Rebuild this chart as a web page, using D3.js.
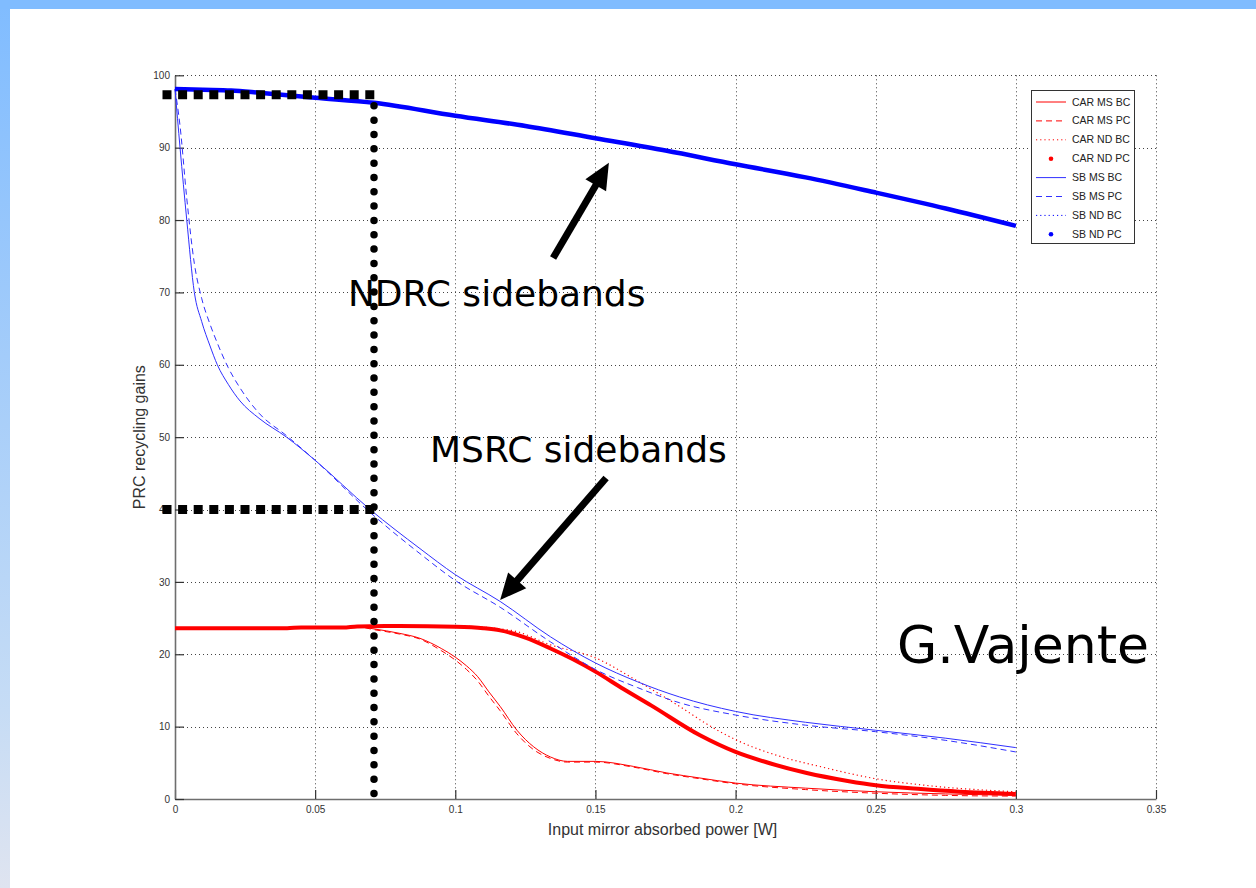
<!DOCTYPE html>
<html>
<head>
<meta charset="utf-8">
<script src="https://cdn.jsdelivr.net/npm/d3@7"></script>
<style>
  html, body { margin: 0; padding: 0; background: #fff; }
  svg { display: block; }
</style>
</head>
<body>
<svg id="chart" width="1256" height="888"></svg>
<script>
// ---- Data: PRC recycling gains vs input mirror absorbed power ----
const xTicks = [0, 0.05, 0.1, 0.15, 0.2, 0.25, 0.3, 0.35];
const xTickLabels = ["0", "0.05", "0.1", "0.15", "0.2", "0.25", "0.3", "0.35"];
const yTicks = [0, 10, 20, 30, 40, 50, 60, 70, 80, 90, 100];
const yTickLabels = ["0", "10", "20", "30", "40", "50", "60", "70", "80", "90", "100"];

// Sideband, non-degenerate recycling cavity
const sbNdX = [0, 0.01, 0.02, 0.03, 0.05, 0.071, 0.1, 0.125, 0.15, 0.175, 0.2, 0.225, 0.25, 0.275, 0.3];
const sbNdBC = [98.1, 98.0, 97.9, 97.6, 96.9, 96.2, 94.4, 93.0, 91.3, 89.6, 87.7, 85.9, 83.8, 81.6, 79.2];
const sbNdPC = [98.1, 98.0, 97.9, 97.6, 96.9, 96.2, 94.4, 93.0, 91.3, 89.6, 87.7, 85.9, 83.8, 81.6, 79.2];

// Sideband, marginally stable recycling cavity
const sbMsX = [0, 0.0018, 0.0042, 0.0069, 0.0095, 0.0125, 0.0151, 0.019, 0.0232, 0.03, 0.0398, 0.05, 0.0696, 0.0874, 0.1, 0.116, 0.134, 0.15, 0.165, 0.18, 0.2, 0.225, 0.25, 0.275, 0.3];
const sbMsBC = [98.1, 90, 80, 70, 66.0, 62.6, 60, 57.3, 55, 52.6, 50, 46.8, 40, 34.6, 31.0, 27.3, 22.4, 18.8, 16.2, 14.1, 12.1, 10.6, 9.5, 8.4, 7.1];
const sbMsPC = [98.1, 93, 83, 74, 69.2, 65.6, 63, 59.6, 56.8, 53.3, 50.2, 46.8, 39.6, 33.9, 30.2, 26.5, 21.7, 17.9, 15.4, 13.3, 11.6, 10.2, 9.3, 8.1, 6.5];

// Carrier, non-degenerate recycling cavity
const carNdPcX = [0, 0.02, 0.04, 0.045, 0.06, 0.065, 0.08, 0.1, 0.11, 0.116, 0.125, 0.134, 0.142, 0.15, 0.16, 0.17, 0.1873, 0.2, 0.2125, 0.2254, 0.24, 0.25, 0.265, 0.28, 0.3];
const carNdPC = [23.6, 23.6, 23.6, 23.7, 23.7, 23.85, 23.9, 23.8, 23.6, 23.3, 22.3, 20.8, 19.3, 17.6, 15.2, 12.9, 8.8, 6.5, 4.9, 3.6, 2.5, 1.9, 1.4, 1.0, 0.7];
const carNdBcX = [0, 0.05, 0.07, 0.1, 0.12, 0.134, 0.15, 0.165, 0.18, 0.19, 0.2, 0.215, 0.23, 0.25, 0.27, 0.3];
const carNdBC = [23.6, 23.7, 23.85, 23.9, 23.3, 21.3, 19.5, 16.3, 12.8, 10.3, 8.2, 6.0, 4.5, 2.8, 1.8, 1.0];

// Carrier, marginally stable recycling cavity
const carMsX = [0, 0.05, 0.065, 0.071, 0.08, 0.0874, 0.095, 0.1, 0.104, 0.108, 0.112, 0.116, 0.122, 0.128, 0.134, 0.14, 0.15, 0.1636, 0.1755, 0.1873, 0.2, 0.225, 0.25, 0.275, 0.3];
const carMsBC = [23.6, 23.7, 23.8, 23.5, 22.9, 22.2, 20.8, 19.6, 18.4, 16.9, 14.8, 12.8, 9.5, 7.2, 5.8, 5.2, 5.2, 4.5, 3.6, 2.9, 2.2, 1.5, 1.0, 0.7, 0.5];
const carMsPC = [23.6, 23.7, 23.8, 23.4, 22.8, 22.1, 20.5, 19.2, 17.9, 16.3, 14.2, 12.2, 9.0, 6.8, 5.6, 5.1, 5.1, 4.4, 3.5, 2.8, 2.1, 1.3, 0.8, 0.5, 0.4];

// Working point read-off guides (absorbed power, gains)
const workPower = 0.071;
const guideGainNd = 97.3;
const guideGainMs = 40;

const legendLabels = ["CAR MS BC", "CAR MS PC", "CAR ND BC", "CAR ND PC", "SB MS BC", "SB MS PC", "SB ND BC", "SB ND PC"];

// ---- Layout ----
const svg = d3.select("#chart");
const W = 1256, H = 888;
const plot = { left: 175, right: 1156, top: 75.3, bottom: 799 };

const x = d3.scaleLinear().domain([0, 0.35]).range([plot.left, plot.right]);
const y = d3.scaleLinear().domain([0, 100]).range([plot.bottom, plot.top]);

// Slide background: blue top band and fading left strip
const defs = svg.append("defs");
const grad = defs.append("linearGradient").attr("id", "leftFade")
  .attr("x1", 0).attr("y1", 0).attr("x2", 0).attr("y2", 1);
grad.append("stop").attr("offset", "0%").attr("stop-color", "#80bcff");
grad.append("stop").attr("offset", "80%").attr("stop-color", "#c6dcf5");
grad.append("stop").attr("offset", "100%").attr("stop-color", "#dfe4f0");

svg.append("rect").attr("width", W).attr("height", H).attr("fill", "#fff");
svg.append("rect").attr("x", 0).attr("y", 0).attr("width", 10).attr("height", H).attr("fill", "url(#leftFade)");
svg.append("rect").attr("x", 0).attr("y", 0).attr("width", W).attr("height", 9).attr("fill", "#80bcff");

// Grid
const grid = svg.append("g").attr("stroke", "#444").attr("stroke-width", 1).attr("stroke-dasharray", "1,3");
grid.selectAll(".gx").data(xTicks.filter(d => d > 0)).join("line")
  .attr("x1", d => Math.round(x(d)) + 0.5).attr("x2", d => Math.round(x(d)) + 0.5)
  .attr("y1", plot.top).attr("y2", plot.bottom);
grid.selectAll(".gy").data(yTicks.filter(d => d > 0)).join("line")
  .attr("y1", d => Math.round(y(d)) + 0.5).attr("y2", d => Math.round(y(d)) + 0.5)
  .attr("x1", plot.left).attr("x2", plot.right);

// Axes (ticks pointing inward)
const xAxis = d3.axisBottom(x).tickValues(xTicks)
  .tickFormat((d, i) => xTickLabels[i]).tickSizeInner(-9).tickSizeOuter(0).tickPadding(7);
const yAxis = d3.axisLeft(y).tickValues(yTicks)
  .tickFormat((d, i) => yTickLabels[i]).tickSizeInner(-9).tickSizeOuter(0).tickPadding(5);

const gx = svg.append("g").attr("transform", `translate(0,${plot.bottom})`).call(xAxis);
const gy = svg.append("g").attr("transform", `translate(${plot.left},0)`).call(yAxis);
[gx, gy].forEach(g => {
  g.select(".domain").attr("stroke", "#6e6e6e").attr("stroke-width", 1.6);
  g.selectAll(".tick line").attr("stroke", "#333").attr("stroke-width", 1.2);
  g.selectAll(".tick text").attr("fill", "#333")
    .style("font-family", "'Liberation Sans', Arial, sans-serif").style("font-size", "10px");
});

// Axis titles
svg.append("text").attr("x", (plot.left + plot.right) / 2 - 3).attr("y", 835)
  .attr("text-anchor", "middle").attr("fill", "#333")
  .style("font-family", "'Liberation Sans', Arial, sans-serif").style("font-size", "16px")
  .text("Input mirror absorbed power [W]");
svg.append("text").attr("transform", `translate(145,${(plot.top + plot.bottom) / 2}) rotate(-90)`)
  .attr("text-anchor", "middle").attr("fill", "#333")
  .style("font-family", "'Liberation Sans', Arial, sans-serif").style("font-size", "16px")
  .text("PRC recycling gains");

// ---- Series ----
const lineGen = d3.line().x(d => x(d[0])).y(d => y(d[1])).curve(d3.curveMonotoneX);
const zip = (xs, ys) => xs.map((v, i) => [v, ys[i]]);

const series = [
  { xs: carMsX, ys: carMsBC, color: "#ff0000", width: 1, dash: null },
  { xs: carMsX, ys: carMsPC, color: "#ff0000", width: 1, dash: "6,4" },
  { xs: carNdBcX, ys: carNdBC, color: "#ff0000", width: 1.2, dash: "1.2,3" },
  { xs: carNdPcX, ys: carNdPC, color: "#ff0000", width: 4, dash: null },
  { xs: sbMsX, ys: sbMsBC, color: "#3030ff", width: 1, dash: null },
  { xs: sbMsX, ys: sbMsPC, color: "#3030ff", width: 1, dash: "6,4" },
  { xs: sbNdX, ys: sbNdBC, color: "#0000ff", width: 1.2, dash: "1.2,3" },
  { xs: sbNdX, ys: sbNdPC, color: "#0000ff", width: 4.5, dash: null }
];

const gSeries = svg.append("g").attr("fill", "none");
series.forEach(s => {
  gSeries.append("path")
    .attr("d", lineGen(zip(s.xs, s.ys)))
    .attr("stroke", s.color).attr("stroke-width", s.width)
    .attr("stroke-dasharray", s.dash).attr("stroke-linejoin", "round");
});

// ---- Working-point guides ----
const guides = svg.append("g").attr("fill", "none").attr("stroke", "#000");
const sqStart = x.invert(plot.left - 12.5);
[guideGainNd, guideGainMs].forEach(g => {
  guides.append("line")
    .attr("x1", x(sqStart)).attr("x2", x(workPower) + 0.5)
    .attr("y1", y(g)).attr("y2", y(g))
    .attr("stroke-width", 9).attr("stroke-dasharray", "9,6.6");
});
const dotTop = y(guideGainNd) + 11, dotBottom = y(0) - 5.5;
const dotGap = (dotBottom - dotTop) / 48;
guides.append("line")
  .attr("x1", x(workPower)).attr("x2", x(workPower))
  .attr("y1", dotTop).attr("y2", dotBottom + 0.5)
  .attr("stroke-width", 7.5).attr("stroke-linecap", "round").attr("stroke-dasharray", `0,${dotGap}`);

// ---- Annotations ----
const arrows = [
  { from: [0.1349, 74.75], to: [0.1548, 87.9] },
  { from: [0.1538, 44.35], to: [0.116, 27.5] }
];
arrows.forEach(a => {
  const x1 = x(a.from[0]), y1 = y(a.from[1]), x2 = x(a.to[0]), y2 = y(a.to[1]);
  const len = Math.hypot(x2 - x1, y2 - y1);
  const ux = (x2 - x1) / len, uy = (y2 - y1) / len;
  svg.append("line")
    .attr("x1", x1).attr("y1", y1)
    .attr("x2", x2 - ux * 18).attr("y2", y2 - uy * 18)
    .attr("stroke", "#000").attr("stroke-width", 7);
  const hx = x2 - ux * 26, hy = y2 - uy * 26;
  const px = -uy, py = ux;
  svg.append("path")
    .attr("d", `M${x2},${y2} L${hx + px * 12},${hy + py * 12} L${hx - px * 12},${hy - py * 12} Z`)
    .attr("fill", "#000");
});

const labels = [
  { text: "NDRC sidebands", at: [0.0617, 68.1], size: 36 },
  { text: "MSRC sidebands", at: [0.091, 46.6], size: 36 },
  { text: "G.Vajente", at: [0.2576, 18.8], size: 52 }
];
labels.forEach(l => {
  svg.append("text").attr("x", x(l.at[0])).attr("y", y(l.at[1]))
    .attr("fill", "#000")
    .style("font-family", "'DejaVu Sans', sans-serif").style("font-size", l.size + "px")
    .text(l.text);
});

// ---- Legend ----
const legend = svg.append("g").attr("transform", "translate(1031,90)");
legend.append("rect").attr("x", 0.5).attr("y", 0.5).attr("width", 103).attr("height", 153)
  .attr("fill", "#fff").attr("stroke", "#333").attr("stroke-width", 1);
series.forEach((s, i) => {
  const ry = 12 + i * 18.9;
  const isMarker = s.width > 3;
  if (isMarker) {
    legend.append("circle").attr("cx", 20).attr("cy", ry).attr("r", 2.3).attr("fill", s.color);
  } else {
    legend.append("line").attr("x1", 5).attr("x2", 35).attr("y1", ry).attr("y2", ry)
      .attr("stroke", s.color).attr("stroke-width", 1)
      .attr("stroke-dasharray", s.dash);
  }
  legend.append("text").attr("x", 41).attr("y", ry + 3.5)
    .attr("fill", "#222")
    .style("font-family", "'Liberation Sans', Arial, sans-serif").style("font-size", "10.5px")
    .text(legendLabels[i]);
});
</script>
</body>
</html>
